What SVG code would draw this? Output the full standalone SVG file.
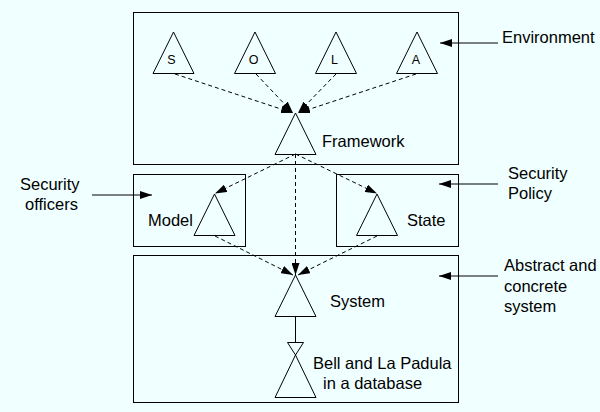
<svg xmlns="http://www.w3.org/2000/svg" width="600" height="412" viewBox="0 0 600 412">
<defs>
<style>
.bg{fill:#F0FFFF}
.box{fill:none;stroke:#000;stroke-width:1}
.tri{fill:#F0FFFF;stroke:#000;stroke-width:1}
.lbl{font-family:"Liberation Sans",Arial,Helvetica,sans-serif;font-size:16.5px;fill:#000}
.ltr{font-family:"Liberation Sans",Arial,Helvetica,sans-serif;font-size:12.5px;fill:#000;text-anchor:middle}
.dash{fill:none;stroke:#000;stroke-width:1;stroke-dasharray:4,3}
.solid{fill:none;stroke:#000;stroke-width:1}
</style>
<marker id="ah" viewBox="0 0 12 8" refX="12" refY="4" markerWidth="12" markerHeight="8" markerUnits="userSpaceOnUse" orient="auto">
<path d="M0,0 L12,4 L0,8 Z" fill="#000"/>
</marker>
</defs>
<rect class="bg" x="0" y="0" width="600" height="412"/>

<g id="environment">
<rect class="box" x="133.5" y="12.5" width="325" height="152"/>
</g>
<g id="policy-model-box">
<rect class="box" x="133.5" y="174.5" width="112" height="72"/>
</g>
<g id="policy-state-box">
<rect class="box" x="336.5" y="174.5" width="122" height="72"/>
</g>
<g id="system-box">
<rect class="box" x="133.5" y="255.5" width="325" height="147"/>
</g>

<g id="node-S">
<polygon class="tri" points="173.5,32 153,73.5 194,73.5"/>
<text class="ltr" x="171.5" y="64">S</text>
</g>
<g id="node-O">
<polygon class="tri" points="255,32 234.5,73.5 275.5,73.5"/>
<text class="ltr" x="253.5" y="64">O</text>
</g>
<g id="node-L">
<polygon class="tri" points="336,32 315.5,73.5 356.5,73.5"/>
<text class="ltr" x="334.5" y="64">L</text>
</g>
<g id="node-A">
<polygon class="tri" points="417,32 396.5,73.5 437.5,73.5"/>
<text class="ltr" x="416" y="64">A</text>
</g>
<g id="node-framework">
<polygon class="tri" points="295.5,113 275,154.5 316,154.5"/>
<text class="lbl" x="322" y="147">Framework</text>
</g>
<g id="node-model">
<polygon class="tri" points="214.5,194 194,235.5 235,235.5"/>
<text class="lbl" x="148" y="226">Model</text>
</g>
<g id="node-state">
<polygon class="tri" points="377,194 356.5,235.5 397.5,235.5"/>
<text class="lbl" x="407" y="226">State</text>
</g>
<g id="node-system">
<polygon class="tri" points="295.5,275 275,316.5 316,316.5"/>
<text class="lbl" x="330" y="307">System</text>
</g>
<g id="node-bell">
<polygon class="tri" points="295.5,355 275,397.5 316,397.5"/>
<text class="lbl" x="313" y="369">Bell and La Padula</text>
<text class="lbl" x="323" y="389">in a database</text>
</g>

<g id="label-environment">
<text class="lbl" x="502" y="43">Environment</text>
</g>
<g id="label-security-officers">
<text class="lbl" x="20" y="190">Security</text>
<text class="lbl" x="25" y="209.5">officers</text>
</g>
<g id="label-security-policy">
<text class="lbl" x="508" y="179">Security</text>
<text class="lbl" x="508" y="199">Policy</text>
</g>
<g id="label-abstract">
<text class="lbl" x="504" y="271">Abstract and</text>
<text class="lbl" x="504" y="291.5">concrete</text>
<text class="lbl" x="504" y="312">system</text>
</g>

<g id="connectors">
<line class="dash" x1="175" y1="74" x2="293" y2="113" marker-end="url(#ah)"/>
<line class="dash" x1="256" y1="74" x2="293" y2="113" marker-end="url(#ah)"/>
<line class="dash" x1="336" y1="74" x2="298" y2="113" marker-end="url(#ah)"/>
<line class="dash" x1="416" y1="74" x2="298" y2="113" marker-end="url(#ah)"/>
<line class="dash" x1="295.5" y1="154" x2="215" y2="193.5" marker-end="url(#ah)"/>
<line class="dash" x1="295.5" y1="154" x2="377" y2="193.5" marker-end="url(#ah)"/>
<line class="dash" x1="295.5" y1="154" x2="295.5" y2="275" marker-end="url(#ah)"/>
<line class="dash" x1="215" y1="236" x2="293" y2="275" marker-end="url(#ah)"/>
<line class="dash" x1="377" y1="236" x2="298" y2="275" marker-end="url(#ah)"/>
<line class="solid" x1="295.5" y1="316.5" x2="295.5" y2="342.5"/>
<polygon class="tri" points="287.5,342.5 303.5,342.5 295.5,355"/>
<line class="solid" x1="498" y1="43" x2="440" y2="43" marker-end="url(#ah)"/>
<line class="solid" x1="92" y1="195" x2="152" y2="195" marker-end="url(#ah)"/>
<line class="solid" x1="498" y1="184" x2="439" y2="184" marker-end="url(#ah)"/>
<line class="solid" x1="498" y1="276" x2="439" y2="276" marker-end="url(#ah)"/>
</g>
</svg>
